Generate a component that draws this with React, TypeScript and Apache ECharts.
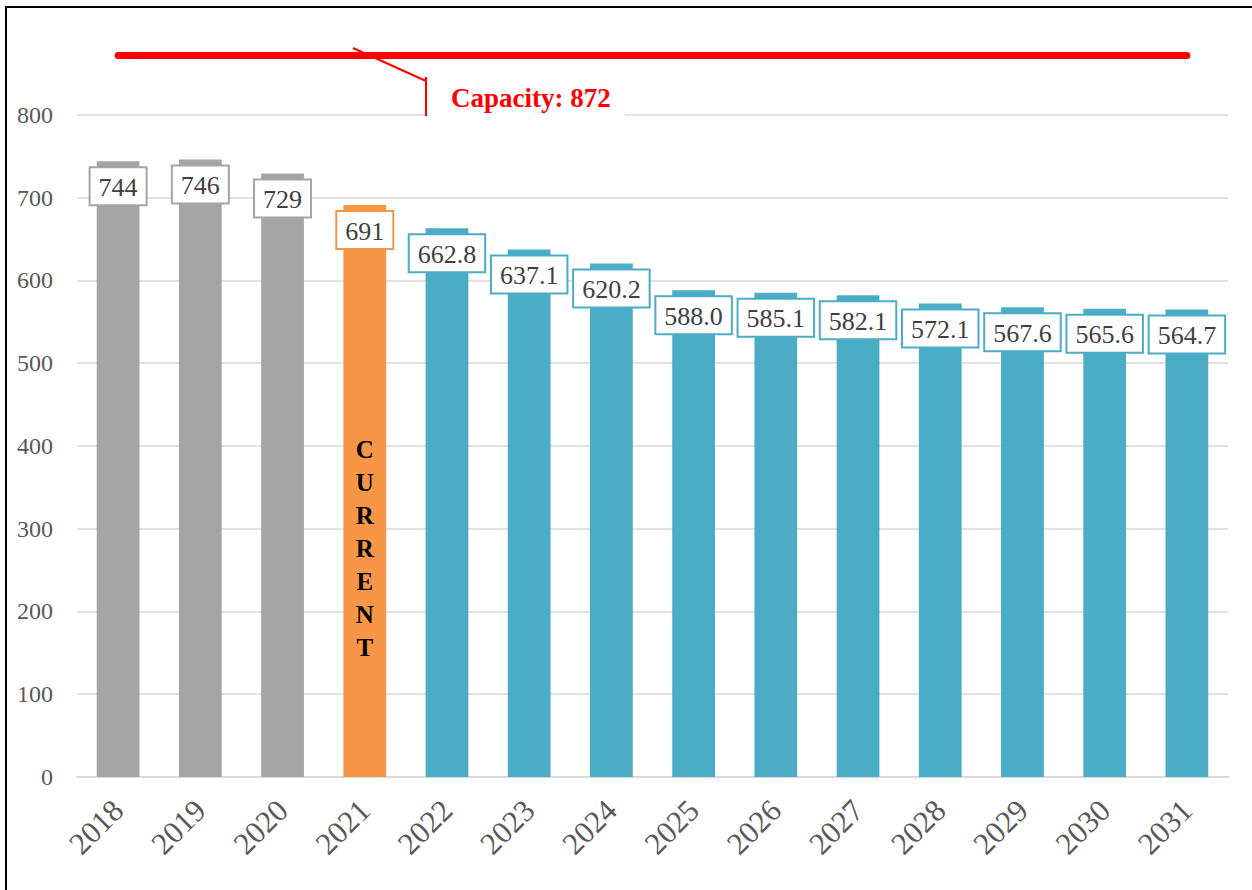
import React, { useEffect, useRef } from "react";
import * as echarts from "echarts";

const categories = ["2018", "2019", "2020", "2021", "2022", "2023", "2024", "2025", "2026", "2027", "2028", "2029", "2030", "2031"];
const values = [744, 746, 729, 691, 662.8, 637.1, 620.2, 588.0, 585.1, 582.1, 572.1, 567.6, 565.6, 564.7];
const phases = ["actual", "actual", "actual", "current", "projected", "projected", "projected", "projected", "projected", "projected", "projected", "projected", "projected", "projected"];
const capacity = 872;
const capacityLabel = "Capacity: 872";
const currentText = "CURRENT";
const yTicks = { min: 0, max: 900, interval: 100 };

const phaseColor: Record<string, string> = {
  actual: "#A5A5A5",
  current: "#F79646",
  projected: "#4BACC6",
};

const FONT = "'Liberation Serif', 'DejaVu Serif', serif";

export default function App() {
  const ref = useRef<HTMLDivElement>(null);
  useEffect(() => {
    if (!ref.current) return;
    const chart = echarts.init(ref.current, undefined, { renderer: "svg" });
    const data = values.map((v, i) => {
      const c = phaseColor[phases[i]];
      return {
        value: v,
        itemStyle: { color: c },
        label: { borderColor: c },
      };
    });
    chart.setOption({
      animation: false,
      backgroundColor: "#ffffff",
      grid: { left: 77, right: 24, top: 32, bottom: 113, containLabel: false },
      xAxis: {
        type: "category",
        data: categories,
        axisTick: { show: false },
        axisLine: { lineStyle: { color: "#D9D9D9", width: 2 } },
        axisLabel: {
          rotate: 45,
          margin: 28,
          color: "#595959",
          fontFamily: FONT,
          fontSize: 31,
        },
      },
      yAxis: {
        type: "value",
        min: yTicks.min,
        max: yTicks.max,
        interval: yTicks.interval,
        axisLine: { show: false },
        axisTick: { show: false },
        axisLabel: {
          showMaxLabel: false,
          margin: 24,
          color: "#595959",
          fontFamily: FONT,
          fontSize: 24,
        },
        splitLine: { showMaxLine: false, lineStyle: { color: "#D9D9D9", width: 1.5 } },
      },
      series: [
        {
          type: "bar",
          data,
          barWidth: "52%",
          label: {
            show: true,
            position: "insideTop",
            distance: 7,
            formatter: (p: any) => (phases[p.dataIndex] === "projected" ? Number(p.value).toFixed(1) : String(p.value)),
            color: "#404040",
            fontFamily: FONT,
            fontSize: 26,
            lineHeight: 26,
            backgroundColor: "#ffffff",
            borderWidth: 2,
            padding: [6, 8, 4, 8],
          },
          markLine: {
            silent: true,
            symbol: ["none", "none"],
            label: { show: false },
            lineStyle: { color: "#FF0000", width: 7, type: "solid", cap: "round" },
            data: [[{ coord: [categories[0], capacity] }, { coord: [categories[categories.length - 1], capacity] }]],
          },
          markPoint: {
            silent: true,
            symbol: "rect",
            symbolSize: 0,
            label: {
              show: true,
              position: "inside",
              formatter: currentText.split("").join("\n"),
              color: "#000000",
              fontFamily: FONT,
              fontWeight: "bold",
              fontSize: 25,
              lineHeight: 33,
            },
            data: [{ coord: ["2021", 276] }],
          },
        },
      ],
      graphic: [
        {
          type: "rect",
          silent: true,
          shape: { x: 6, y: 7, width: 1400, height: 1000 },
          style: { fill: "none", stroke: "#000000", lineWidth: 2 },
          z: 100,
        },
        {
          type: "rect",
          silent: true,
          shape: { x: 428, y: 84, width: 197, height: 34 },
          style: { fill: "#ffffff" },
          z: 50,
        },
        {
          type: "polyline",
          silent: true,
          shape: { points: [[353, 48], [426, 81]] },
          style: { stroke: "#FF0000", lineWidth: 2, fill: "none" },
          z: 60,
        },
        {
          type: "line",
          silent: true,
          shape: { x1: 426, y1: 77, x2: 426, y2: 116 },
          style: { stroke: "#FF0000", lineWidth: 2 },
          z: 60,
        },
        {
          type: "text",
          silent: true,
          x: 451,
          y: 98,
          style: {
            text: capacityLabel,
            fill: "#FF0000",
            font: `bold 27px ${FONT}`,
            verticalAlign: "middle",
          },
          z: 60,
        },
      ],
    });
    return () => chart.dispose();
  }, []);
  return <div ref={ref} style={{ position: "absolute", left: 0, top: 0, width: 1252, height: 890 }} />;
}
